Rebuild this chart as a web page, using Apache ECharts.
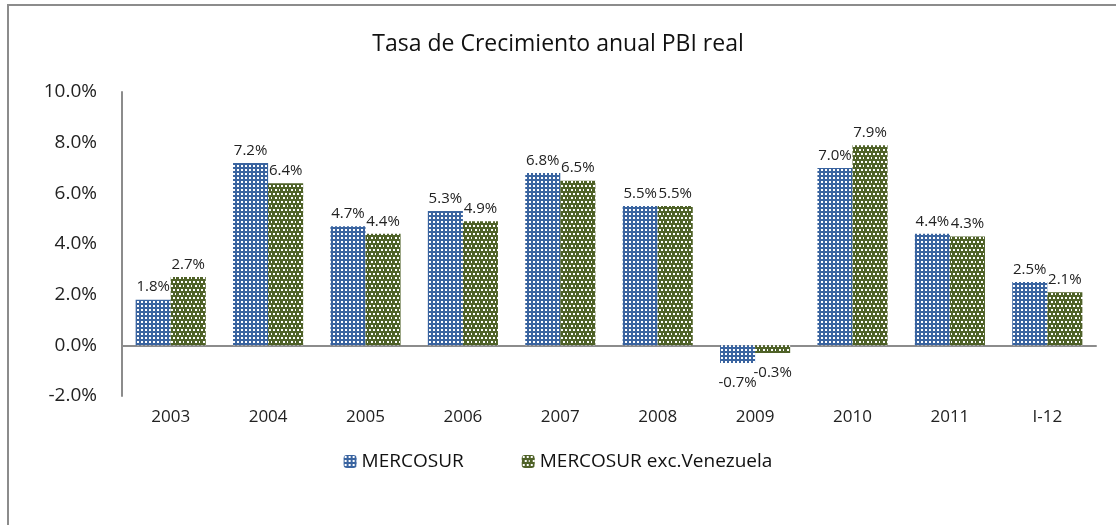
<!DOCTYPE html>
<html>
<head>
<meta charset="utf-8">
<script src="https://cdn.jsdelivr.net/npm/echarts@6/dist/echarts.min.js"></script>
<style>
  html, body { margin: 0; padding: 0; background: #fff; }
  #main { width: 1116px; height: 525px; }
</style>
</head>
<body>
<div id="main"></div>
<script>
// datos
var years = ['2003', '2004', '2005', '2006', '2007', '2008', '2009', '2010', '2011', 'I-12'];
var mercosur = [1.8, 7.2, 4.7, 5.3, 6.8, 5.5, -0.7, 7.0, 4.4, 2.5];
var mercosurExcVen = [2.7, 6.4, 4.4, 4.9, 6.5, 5.5, -0.3, 7.9, 4.3, 2.1];
var yTicks = [-2, 0, 2, 4, 6, 8, 10];

var font = "'Open Sans', 'Liberation Sans', sans-serif";

// tramas tipo Excel
function makePattern(bg, w, h, dots) {
  var c = document.createElement('canvas');
  c.width = w; c.height = h;
  var ctx = c.getContext('2d');
  ctx.fillStyle = bg;
  ctx.fillRect(0, 0, w, h);
  ctx.fillStyle = '#fff';
  dots.forEach(function (d) { ctx.fillRect(d[0], d[1], 2, 2); });
  return { image: c, repeat: 'repeat' };
}
var bluePat = makePattern('#3a64a0', 4, 4, [[1, 1]]);
var greenPat = makePattern('#4f6228', 8, 8, [[1, 1], [5, 1], [3, 5], [7, 5]]);

function withLabels(arr) {
  return arr.map(function (v) {
    return { value: v, label: v < 0 ? { position: 'bottom', distance: 12 } : { position: 'top' } };
  });
}

var labelCfg = {
  show: true,
  color: '#222',
  fontFamily: font,
  fontSize: 15,
  distance: 5,
  formatter: function (p) { return p.value.toFixed(1) + '%'; }
};

var chart = echarts.init(document.getElementById('main'));
chart.setOption({
  animation: false,
  title: {
    text: 'Tasa de Crecimiento anual PBI real',
    left: 'center',
    top: 28,
    textStyle: { fontFamily: font, fontWeight: 'normal', fontSize: 23, color: '#111' }
  },
  graphic: [{
    type: 'rect',
    shape: { x: 8, y: 5, width: 1300, height: 700 },
    style: { fill: 'none', stroke: '#8c8c8c', lineWidth: 2 },
    silent: true
  }],
  legend: {
    bottom: 49,
    left: 'center',
    itemWidth: 13,
    itemHeight: 13,
    itemGap: 58,
    textStyle: { fontFamily: font, fontSize: 19, color: '#111' },
    data: ['MERCOSUR', 'MERCOSUR exc.Venezuela']
  },
  grid: { left: 122, right: 20, top: 92, bottom: 129 },
  xAxis: [{
    type: 'category',
    data: years,
    axisLine: { onZero: true, lineStyle: { color: '#8c8c8c', width: 2 } },
    axisTick: { show: false },
    axisLabel: { show: false }
  }, {
    type: 'category',
    data: years,
    position: 'bottom',
    axisLine: { show: false },
    axisTick: { show: false },
    axisLabel: { margin: 13, fontFamily: font, fontSize: 17, color: '#222' }
  }],
  yAxis: {
    type: 'value',
    min: yTicks[0],
    max: yTicks[yTicks.length - 1],
    interval: 2,
    axisLine: { show: true, lineStyle: { color: '#8c8c8c', width: 2 } },
    axisTick: { show: false },
    splitLine: { show: false },
    axisLabel: {
      margin: 25,
      fontFamily: font, fontSize: 19, color: '#222',
      formatter: function (v) { return v.toFixed(1) + '%'; }
    }
  },
  series: [{
    name: 'MERCOSUR',
    type: 'bar',
    data: withLabels(mercosur),
    barGap: '0%',
    barCategoryGap: '28%',
    itemStyle: { color: bluePat },
    label: labelCfg
  }, {
    name: 'MERCOSUR exc.Venezuela',
    type: 'bar',
    data: withLabels(mercosurExcVen),
    barGap: '0%',
    barCategoryGap: '28%',
    itemStyle: { color: greenPat },
    label: labelCfg
  }]
});
</script>
</body>
</html>
